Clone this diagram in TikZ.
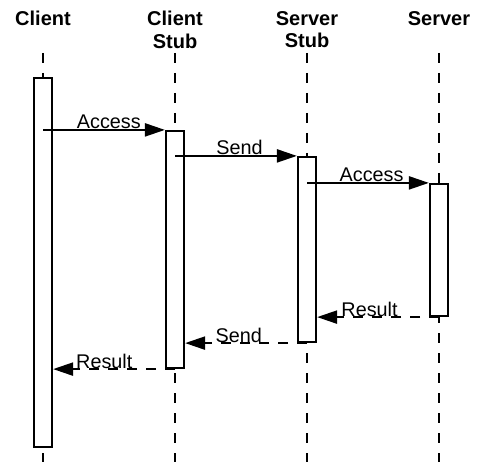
\documentclass[tikz,border=0pt]{standalone}
\usepackage{fontspec}
\setmainfont{Liberation Sans}
\usetikzlibrary{arrows.meta}
\begin{document}
\begin{tikzpicture}[x=1pt,y=-1pt,
  title/.style={font=\fontsize{20}{22.5}\selectfont\bfseries, align=center, anchor=north, inner sep=0pt},
  lifeline/.style={line width=1.2pt, dash pattern=on 10pt off 10pt},
  actbox/.style={draw, fill=white, line width=2.2pt, minimum width=18pt, inner sep=0pt},
  msg/.style={line width=2.2pt, -{Triangle[length=20pt,width=13pt]}},
  ret/.style={msg, dash pattern=on 10pt off 9pt},
  lbl/.style={font=\fontsize{19.8}{22}\selectfont, anchor=base, inner sep=0pt, yshift=1pt}]
\useasboundingbox (0,0) rectangle (478,462);
% titles
\node[title] (t1) at (43,11) {Client};
\node[title] (t2) at (175,11) {Client\\Stub};
\node[title] (t3) at (307,11) {Server\\Stub};
\node[title] (t4) at (439,11) {Server};
% lifelines
\coordinate (l1a) at (43,53);  \coordinate (l1b) at (43,462);
\coordinate (l2a) at (175,53); \coordinate (l2b) at (175,462);
\coordinate (l3a) at (307,53); \coordinate (l3b) at (307,462);
\coordinate (l4a) at (439,53); \coordinate (l4b) at (439,462);
\draw[lifeline] (l1a) -- (l1b);
\draw[lifeline] (l2a) -- (l2b);
\draw[lifeline] (l3a) -- (l3b);
\draw[lifeline] (l4a) -- (l4b);
% activation boxes
\node[actbox, minimum height=369pt] (b1) at (43,262.5) {};
\node[actbox, minimum height=237pt] (b2) at (175,249.5) {};
\node[actbox, minimum height=185pt] (b3) at (307,249.5) {};
\node[actbox, minimum height=132pt] (b4) at (439,250) {};
% messages
\draw[msg] (b1.center |- b2.north) -- (b2.north west) node[lbl, pos=0.54] (m1) {Access};
\draw[msg] (b2.center |- b3.north) -- (b3.north west) node[lbl, pos=0.53] (m2) {Send};
\draw[msg] (b3.center |- b4.north) -- (b4.north west) node[lbl, pos=0.53] (m3) {Access};
\draw[ret] (b4.center |- b4.south) -- (b3.east |- b4.south) node[lbl, pos=0.57] (m4) {Result};
\draw[ret] (b3.center |- b3.south) -- (b2.east |- b3.south) node[lbl, pos=0.56] (m5) {Send};
\draw[ret] (b2.center |- b2.south) -- (b1.east |- b2.south) node[lbl, pos=0.58] (m6) {Result};
\end{tikzpicture}
\end{document}
